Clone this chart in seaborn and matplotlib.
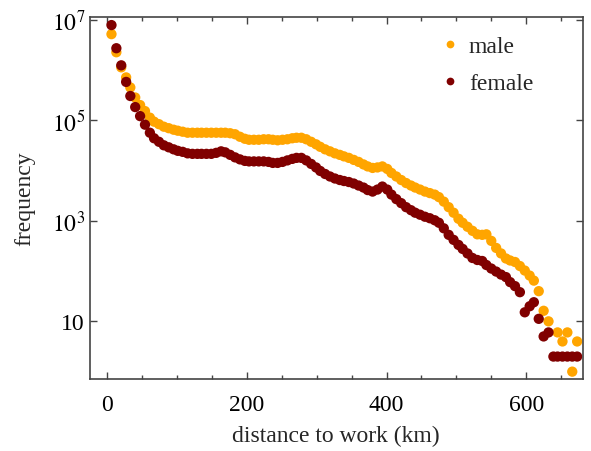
import numpy as np
import pandas as pd
import matplotlib
matplotlib.use("Agg")
import matplotlib.pyplot as plt
from matplotlib.ticker import FixedLocator, MultipleLocator
import seaborn as sns

# ── Data ────────────────────────────────────────────────
# bin centres, km
distance_km = [6, 13, 20, 27, 33, 40, 47, 54, 61, 67, 74, 81, 88, 95, 101,
               108, 115, 122, 129, 135, 142, 149, 156, 163, 169, 176, 183,
               190, 197, 203, 210, 217, 224, 231, 237, 244, 251, 258, 265,
               271, 278, 285, 292, 299, 305, 312, 319, 326, 333, 339, 346,
               353, 360, 367, 373, 380, 387, 394, 401, 407, 414, 421, 428,
               435, 441, 448, 455, 462, 469, 475, 482, 489, 496, 503, 509,
               516, 523, 530, 537, 543, 550, 557, 564, 571, 577, 584, 591,
               598, 605, 611, 618, 625, 632, 639, 645, 652, 659, 666, 673]

# log10(frequency); None = empty bin (not drawn)
male_log10 = [6.71, 6.35, 6.05, 5.85, 5.65, 5.45, 5.30, 5.18, 5.05, 4.97,
              4.92, 4.87, 4.84, 4.81, 4.79, 4.77, 4.75, 4.75, 4.75, 4.75,
              4.75, 4.75, 4.75, 4.75, 4.75, 4.74, 4.72, 4.67, 4.63, 4.61,
              4.61, 4.61, 4.62, 4.62, 4.61, 4.60, 4.61, 4.62, 4.64, 4.65,
              4.65, 4.62, 4.57, 4.52, 4.47, 4.42, 4.38, 4.34, 4.31, 4.28,
              4.25, 4.21, 4.17, 4.12, 4.08, 4.05, 4.06, 4.08, 4.03, 3.95,
              3.88, 3.81, 3.75, 3.70, 3.66, 3.62, 3.58, 3.55, 3.52, 3.47,
              3.38, 3.27, 3.16, 3.04, 2.96, 2.88, 2.80, 2.73, 2.72, 2.73,
              2.60, 2.46, 2.35, 2.25, 2.21, 2.18, 2.10, 2.01, 1.91, 1.81,
              1.60, 1.21, 1.00, None, 0.78, 0.60, 0.78, 0.00, 0.60]

female_log10 = [6.89, 6.43, 6.09, 5.76, 5.48, 5.26, 5.08, 4.91, 4.75, 4.64,
                4.57, 4.50, 4.46, 4.42, 4.39, 4.37, 4.34, 4.33, 4.33, 4.33,
                4.33, 4.33, 4.35, 4.38, 4.36, 4.31, 4.26, 4.22, 4.19, 4.18,
                4.18, 4.18, 4.18, 4.17, 4.15, 4.15, 4.17, 4.20, 4.23, 4.25,
                4.25, 4.20, 4.13, 4.06, 3.99, 3.93, 3.88, 3.84, 3.81, 3.79,
                3.77, 3.74, 3.70, 3.66, 3.61, 3.58, 3.62, 3.68, 3.62, 3.52,
                3.43, 3.35, 3.27, 3.21, 3.16, 3.12, 3.08, 3.05, 3.01, 2.96,
                2.85, 2.72, 2.62, 2.52, 2.44, 2.35, 2.26, 2.22, 2.20, 2.12,
                2.05, 1.99, 1.93, 1.88, 1.78, 1.70, 1.58, 1.18, 1.30, 1.38,
                1.05, 0.70, 0.78, 0.30, 0.30, 0.30, 0.30, 0.30, 0.30]

series_names = ["male", "female"]
series_colors = {"male": "#FFA500", "female": "#800000"}

y_ticks = [10, 1e3, 1e5, 1e7]
y_tick_labels = ["10", r"$10^3$", r"$10^5$", r"$10^7$"]
x_ticks = [0, 200, 400, 600]

# ── Build long table ────────────────────────────────────
rows = []
for name, vals in zip(series_names, [male_log10, female_log10]):
    for d, v in zip(distance_km, vals):
        if v is None:
            continue
        rows.append({"distance": d, "frequency": 10 ** v, "sex": name})
df = pd.DataFrame(rows)

# ── Style ───────────────────────────────────────────────
sns.set_style("ticks")
plt.rcParams["font.family"] = ["Liberation Serif", "DejaVu Serif"]
plt.rcParams["mathtext.fontset"] = "stix"
plt.rcParams["axes.edgecolor"] = "#444444"
plt.rcParams["xtick.color"] = "#444444"
plt.rcParams["ytick.color"] = "#444444"

FS = 17

fig = plt.figure(figsize=(5.91, 4.52), dpi=100)
ax = fig.add_axes([0.152, 0.159, 0.834, 0.801])

sns.scatterplot(data=df, x="distance", y="frequency", hue="sex",
                hue_order=series_names, palette=series_colors,
                s=55, linewidth=0, alpha=1.0, ax=ax)

ax.set_yscale("log")
ax.set_xlim(-25, 681)
ax.set_ylim(0.71, 1.12e7)

ax.xaxis.set_major_locator(FixedLocator(x_ticks))
ax.xaxis.set_minor_locator(MultipleLocator(50))
ax.yaxis.set_major_locator(FixedLocator(y_ticks))
ax.yaxis.set_minor_locator(FixedLocator([]))
ax.set_yticklabels(y_tick_labels)

ax.tick_params(axis="both", which="both", direction="in",
               top=True, right=True, labelcolor="black", labelsize=FS)
ax.tick_params(which="major", length=5, width=1)
ax.tick_params(which="minor", length=3, width=1)
ax.tick_params(axis="x", which="major", pad=11)

for sp in ax.spines.values():
    sp.set_linewidth(1.2)

ax.set_xlabel("distance to work (km)", fontsize=FS, labelpad=7)
ax.set_ylabel("frequency", fontsize=FS, labelpad=12)

leg = ax.legend(loc="upper right", bbox_to_anchor=(0.938, 1.0),
                frameon=False, fontsize=FS, markerscale=0.75,
                labelspacing=0.65, handletextpad=0.1, handlelength=1.4,
                borderpad=0.3, title=None)

fig.savefig("out.png", dpi=100)
